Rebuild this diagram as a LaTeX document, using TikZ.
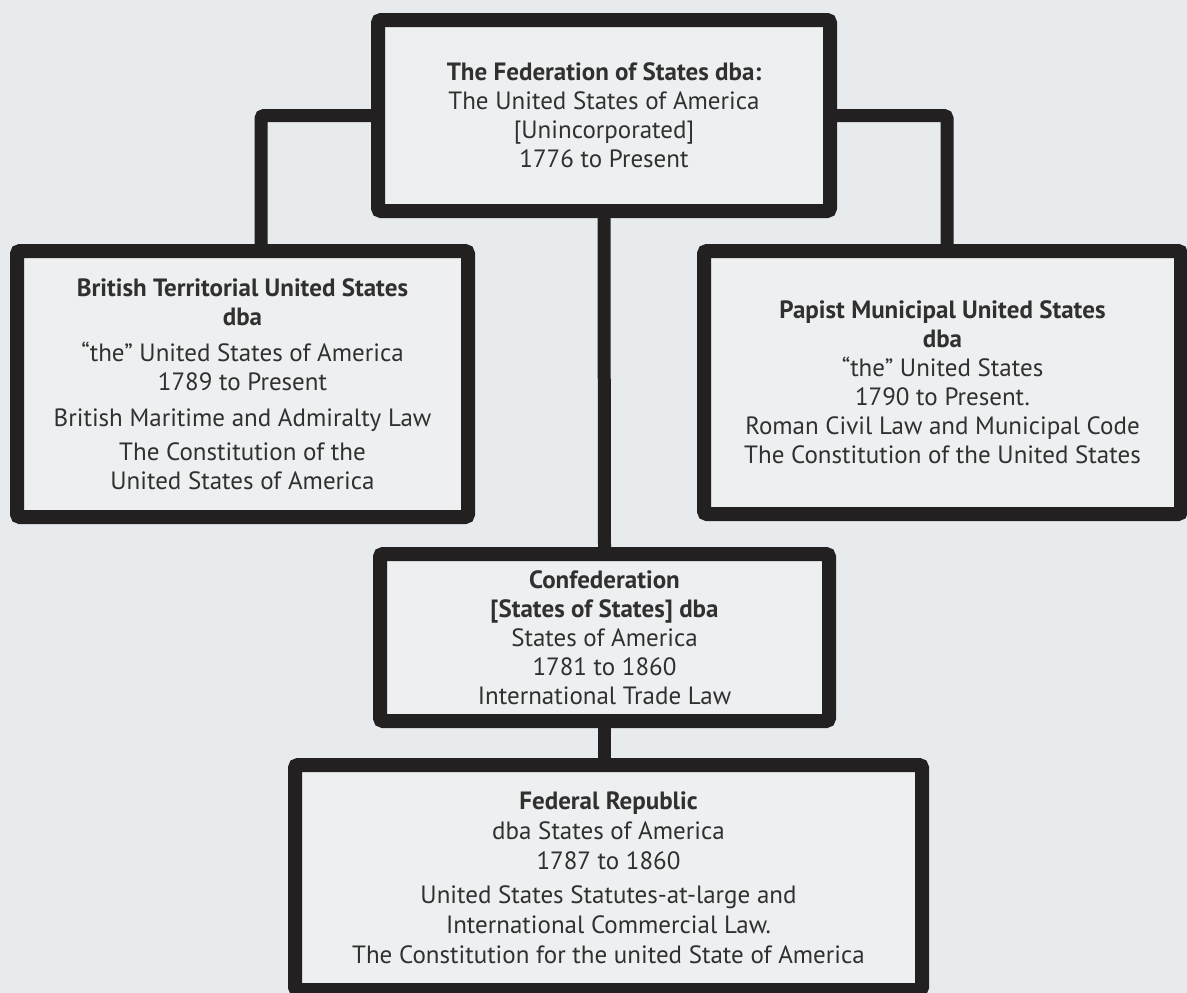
\documentclass[tikz,border=0pt]{standalone}
\usepackage{fontspec}
\setsansfont{PT Sans}
\usetikzlibrary{positioning}
\definecolor{paper}{RGB}{232,235,237}
\definecolor{boxfill}{RGB}{237,239,240}
\definecolor{ink}{RGB}{34,32,32}
\definecolor{txt}{RGB}{48,48,48}
\tikzset{
    font=\sffamily\fontsize{25}{29}\selectfont,
    % Shapes
    orgbox/.style={rectangle, draw=ink, fill=boxfill, line width=14pt,
                   rounded corners=3pt, align=center, text=txt, inner sep=0pt},
    % Connectors
    link/.style={draw=ink, line width=13pt, rounded corners=3pt}
}

\begin{document}
\begin{tikzpicture}[x=1pt, y=-1pt]

\fill[paper] (0,0) rectangle (1187,993);
\useasboundingbox (0,0) rectangle (1187,993);

\node[orgbox, minimum width=452pt, minimum height=191pt] (federation) at (604,115.5)
    {\textbf{The Federation of States dba:}\\The United States of America\\{[}Unincorporated]\\1776 to Present};
\node[orgbox, minimum width=451pt, minimum height=266pt] (british) at (242.5,384)
    {\textbf{British Territorial United States}\\\textbf{dba}\\[7pt]
     “the” United States of America\\1789 to Present\\[7pt]
     British Maritime and Admiralty Law\\[5pt]
     The Constitution of the\\United States of America};
\node[orgbox, minimum width=477pt, minimum height=263pt] (papist) at (942.5,382.5)
    {\textbf{Papist Municipal United States}\\\textbf{dba}\\“the” United States\\1790 to Present.\\
     Roman Civil Law and Municipal Code\\The Constitution of the United States};
\node[orgbox, minimum width=449pt, minimum height=167pt] (confed) at (604.5,637.5)
    {\textbf{Confederation}\\\textbf{[States of States] dba}\\States of America\\1781 to 1860\\International Trade Law};
\node[orgbox, minimum width=627pt, minimum height=225pt, font=\sffamily\fontsize{25}{30}\selectfont] (republic) at (608.5,877.5)
    {\textbf{Federal Republic}\\dba States of America\\1787 to 1860\\[4pt]
     United States Statutes-at-large and\\International Commercial Law.\\
     The Constitution for the united State of America};

\draw[link] (federation.west) -| ([xshift=18.5pt]british.north);
\draw[link] (federation.east) -| ([xshift=4.5pt]papist.north);
\draw[link] (federation.south) -- (confed.north);
\draw[link] (confed.south) -- (confed.south |- republic.north);

\end{tikzpicture}
\end{document}
